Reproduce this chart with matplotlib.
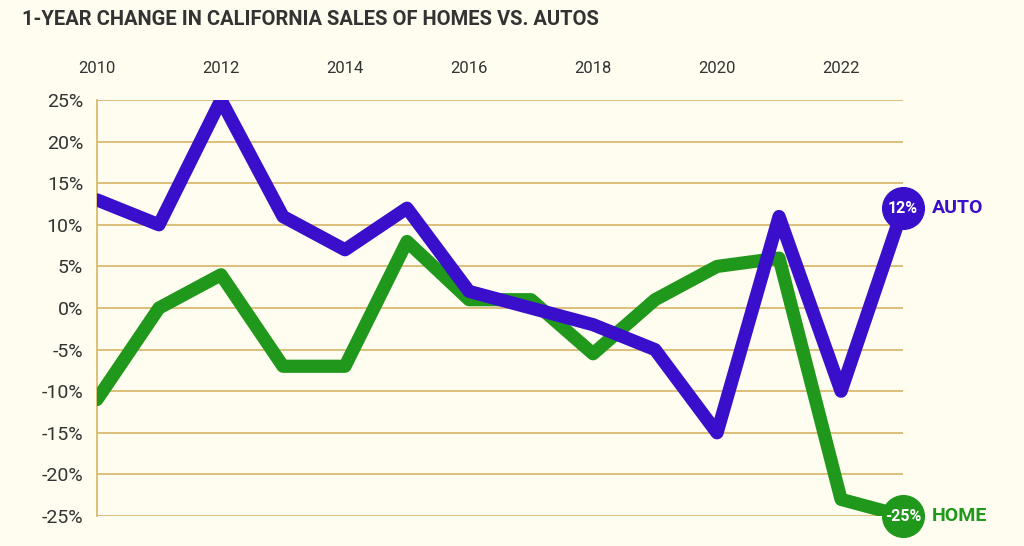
import matplotlib.pyplot as plt
from matplotlib.ticker import FuncFormatter

years = list(range(2010, 2024))
auto_change = [13, 10, 25, 11, 7, 12, 2, 0, -2, -5, -15, 11, -10, 12]
home_change = [-11, 0, 4, -7, -7, 8, 1, 1, -5.5, 1, 5, 6, -23, -25]
year_ticks = list(range(2010, 2023, 2))
pct_ticks = list(range(-25, 30, 5))

AUTO_COLOR = "#3a0fcb"
HOME_COLOR = "#1f981c"
BG = "#fffdf0"
GRID = "#d6b464"
TEXT = "#333333"

plt.rcParams["font.family"] = ["Roboto", "DejaVu Sans"]

fig = plt.figure(figsize=(10.24, 5.46), dpi=100, facecolor=BG)
ax = fig.add_axes([0.0947, 0.0549, 0.7872, 0.7619], facecolor=BG)

ax.plot(years, home_change, color=HOME_COLOR, lw=9.5, solid_capstyle="round",
        solid_joinstyle="round", zorder=3)
ax.plot(years, auto_change, color=AUTO_COLOR, lw=9.5, solid_capstyle="round",
        solid_joinstyle="round", zorder=4)

# end-point badges
for series, color, name in [(auto_change, AUTO_COLOR, "AUTO"), (home_change, HOME_COLOR, "HOME")]:
    ax.plot(years[-1], series[-1], "o", ms=30, color=color, zorder=5, clip_on=False)
    ax.text(years[-1], series[-1], f"{series[-1]}%", color="white", fontsize=11.5,
            fontweight="bold", ha="center", va="center", zorder=6, clip_on=False)
    ax.annotate(name, (years[-1], series[-1]), xytext=(21, 0), textcoords="offset points",
                color=color, fontsize=14, fontweight="bold", ha="left", va="center",
                annotation_clip=False)

ax.set_xlim(2010, 2023)
ax.set_ylim(-25, 25)
ax.set_xticks(year_ticks)
ax.set_yticks(pct_ticks)
ax.yaxis.set_major_formatter(FuncFormatter(lambda v, _: f"{v:.0f}%"))
ax.xaxis.tick_top()
ax.tick_params(axis="x", length=0, pad=17, labelsize=12, labelcolor=TEXT)
ax.tick_params(axis="y", length=0, pad=10, labelsize=14, labelcolor=TEXT)
ax.grid(axis="y", color=GRID, lw=1.2, zorder=1)
for side in ["top", "right", "bottom"]:
    ax.spines[side].set_visible(False)
ax.spines["left"].set_color(GRID)
ax.spines["left"].set_linewidth(1.2)

fig.text(0.021, 0.965, "1-YEAR CHANGE IN CALIFORNIA SALES OF HOMES VS. AUTOS",
         fontsize=14.5, fontweight="bold", color=TEXT, ha="left", va="center")

fig.savefig("out.png", dpi=100, facecolor=BG)
